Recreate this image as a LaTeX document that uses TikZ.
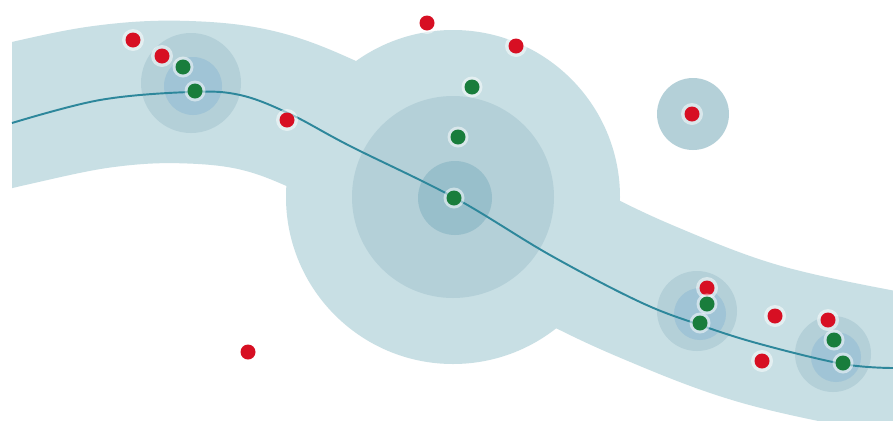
\documentclass[tikz,border=0pt]{standalone}
\usepackage{tikz}
\usepackage{xcolor}
\usetikzlibrary{arrows.meta,calc}
\definecolor{BandColor}{RGB}{200,223,228}
\definecolor{RingColor}{RGB}{180,208,216}
\definecolor{CoreColor}{RGB}{152,191,203}
\definecolor{TrackColor}{RGB}{45,135,155}
\definecolor{HitRed}{RGB}{215,15,35}
\definecolor{HitGreen}{RGB}{25,125,60}
\definecolor{ClusterCore}{RGB}{160,196,214}
\tikzset{
  reddot/.style={fill=HitRed},
  greendot/.style={fill=HitGreen},
  halo/.style={fill=white, fill opacity=0.5},
  cluster/.style={fill=RingColor},
  clustercore/.style={fill=ClusterCore}
}

\begin{document}
\begin{tikzpicture}[x=0.02cm, y=-0.02cm]
        \fill[white] (0,0) rectangle (893,420);
        \clip (0,0) rectangle (893,420);
        % band and the big vertex region
        \begin{scope}
          \clip (12,0) rectangle (893,420);
          \draw[BandColor, line width=2.85cm, line cap=butt] plot[smooth, tension=0.6] coordinates
            {(-40,128) (12,115) (100,97) (180,92) (260,101) (340,132) (455,190) (560,250) (650,293) (760,334) (893,363) (960,372)};
        \end{scope}
        \fill[BandColor] (453,197) circle (167);
        \fill[RingColor] (453,197) circle (101);
        \fill[CoreColor] (455,198) circle (37);
        % small clusters
        \fill[cluster] (191,83) circle (50);
        \fill[clustercore] (193,86) circle (29);
        \fill[cluster] (693,114) circle (36);
        \fill[cluster] (697,311) circle (40);
        \fill[clustercore] (700,314) circle (26);
        \fill[cluster] (833,354) circle (38);
        \fill[clustercore] (836,357) circle (25);
        % track
        \draw[TrackColor, line width=1.1pt] plot[smooth, tension=0.6] coordinates
          {(12,123) (100,100) (190,92) (240,95) (290,114) (350,146) (455,198) (550,255) (640,302) (700,325) (760,344) (843,364) (893,368)};
        % hits
        \foreach \p in {(133,40),(162,56),(287,120),(427,23),(516,46),(692,114),(707,288),(775,316),(762,361),(828,320),(248,352)} {
          \fill[halo] \p circle (11);
          \fill[reddot] \p circle (7.5);
        }
        \foreach \p in {(183,67),(195,91),(472,87),(458,137),(454,198),(707,304),(700,323),(834,340),(843,363)} {
          \fill[halo] \p circle (10.5);
          \fill[greendot] \p circle (7.5);
        }
      \end{tikzpicture}
\end{document}
